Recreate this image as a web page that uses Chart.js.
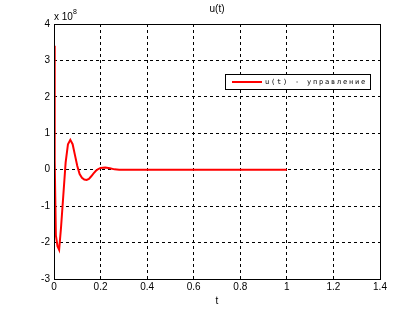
<!DOCTYPE html>
<html>
<head>
<meta charset="utf-8">
<script src="https://cdn.jsdelivr.net/npm/chart.js@4/dist/chart.umd.min.js"></script>
<style>
  html, body { margin: 0; padding: 0; background: #fff; }
  #wrap { width: 420px; height: 315px; }
</style>
</head>
<body>
<div id="wrap"><canvas id="uChart" width="420" height="315"></canvas></div>
<script>
// time axis, seconds
var tValues = [0, 0.002, 0.004, 0.008, 0.015, 0.022, 0.03, 0.04, 0.05, 0.06, 0.07, 0.08, 0.09, 0.1,
    0.11, 0.12, 0.13, 0.14, 0.15, 0.16, 0.17, 0.18, 0.19, 0.2, 0.22, 0.24, 0.26, 0.28, 0.4, 0.6, 0.8, 1.0];
// control signal u(t), in units of 1e8
var uValues = [3.4, 2.55, 0.25, -1.8, -2.1, -2.2, -1.6, -0.7, 0.2, 0.7, 0.82, 0.7, 0.4, 0.1,
    -0.12, -0.22, -0.27, -0.28, -0.25, -0.18, -0.1, -0.03, 0.02, 0.05, 0.06, 0.04, 0.01, 0, 0, 0, 0, 0];
var xTicks = [0, 0.2, 0.4, 0.6, 0.8, 1, 1.2, 1.4];
var yTicks = [-3, -2, -1, 0, 1, 2, 3, 4];
var seriesLabel = 'u(t) - управление';
var chartTitle = 'u(t)';
var xTitle = 't';

var points = [];
for (var i = 0; i < tValues.length; i++) {
    points.push({x: tValues[i], y: uValues[i]});
}

var font = "'Liberation Sans', Arial, sans-serif";

var matlabDecor = {
    id: 'matlabDecor',
    afterDraw: function (chart) {
        var ctx = chart.ctx;
        var a = chart.chartArea;
        ctx.save();
        // frame
        ctx.strokeStyle = '#000';
        ctx.lineWidth = 1;
        ctx.setLineDash([]);
        ctx.strokeRect(Math.round(a.left) + 0.5, Math.round(a.top) + 0.5,
            Math.round(a.right - a.left), Math.round(a.bottom - a.top));

        ctx.fillStyle = '#000';
        // title
        ctx.font = '10px ' + font;
        ctx.textAlign = 'center';
        ctx.textBaseline = 'middle';
        ctx.fillText(chartTitle, (a.left + a.right) / 2, 9);
        // x axis title
        ctx.fillText(xTitle, (a.left + a.right) / 2, 301);
        // exponent
        ctx.textAlign = 'left';
        ctx.textBaseline = 'alphabetic';
        ctx.fillText('x 10', a.left, 20);
        ctx.font = '7px ' + font;
        ctx.fillText('8', a.left + 19, 14);

        // legend box
        var bx = 225, by = 74, bw = 145, bh = 15;
        ctx.fillStyle = '#fff';
        ctx.fillRect(bx, by, bw, bh);
        ctx.strokeStyle = '#000';
        ctx.strokeRect(bx + 0.5, by + 0.5, bw, bh);
        ctx.strokeStyle = 'red';
        ctx.lineWidth = 2;
        ctx.beginPath();
        ctx.moveTo(232, by + 8);
        ctx.lineTo(262, by + 8);
        ctx.stroke();
        ctx.fillStyle = '#000';
        ctx.font = '7px "DejaVu Sans Mono", monospace';
        ctx.textBaseline = 'middle';
        var cx = 265;
        for (var k = 0; k < seriesLabel.length; k++) {
            ctx.fillText(seriesLabel[k], cx, by + 8);
            cx += 6;
        }
        ctx.restore();
    }
};

new Chart(document.getElementById('uChart'), {
    type: 'line',
    data: {
        datasets: [{
            label: seriesLabel,
            data: points,
            borderColor: '#ff0000',
            borderWidth: 2,
            pointRadius: 0,
            fill: false,
            tension: 0
        }]
    },
    options: {
        responsive: false,
        animation: false,
        layout: {padding: {left: 0, top: 24, right: 40, bottom: 0}},
        plugins: {
            legend: {display: false},
            title: {display: false},
            tooltip: {enabled: false}
        },
        scales: {
            x: {
                type: 'linear',
                min: 0,
                max: 1.4,
                afterBuildTicks: function (scale) {
                    scale.ticks = xTicks.map(function (v) { return {value: v}; });
                },
                afterFit: function (scale) { scale.height = 36; },
                ticks: {
                    color: '#000',
                    font: {family: font, size: 10},
                    padding: 2,
                    maxRotation: 0,
                    callback: function (v) { return String(Math.round(v * 10) / 10); }
                },
                grid: {color: '#000', lineWidth: 1, drawTicks: false},
                border: {display: false, dash: [3, 3]}
            },
            y: {
                type: 'linear',
                min: -3,
                max: 4,
                afterBuildTicks: function (scale) {
                    scale.ticks = yTicks.map(function (v) { return {value: v}; });
                },
                afterFit: function (scale) { scale.width = 54; },
                ticks: {
                    color: '#000',
                    font: {family: font, size: 10},
                    padding: 4
                },
                grid: {color: '#000', lineWidth: 1, drawTicks: false},
                border: {display: false, dash: [3, 3]}
            }
        }
    },
    plugins: [matlabDecor]
});
</script>
</body>
</html>
